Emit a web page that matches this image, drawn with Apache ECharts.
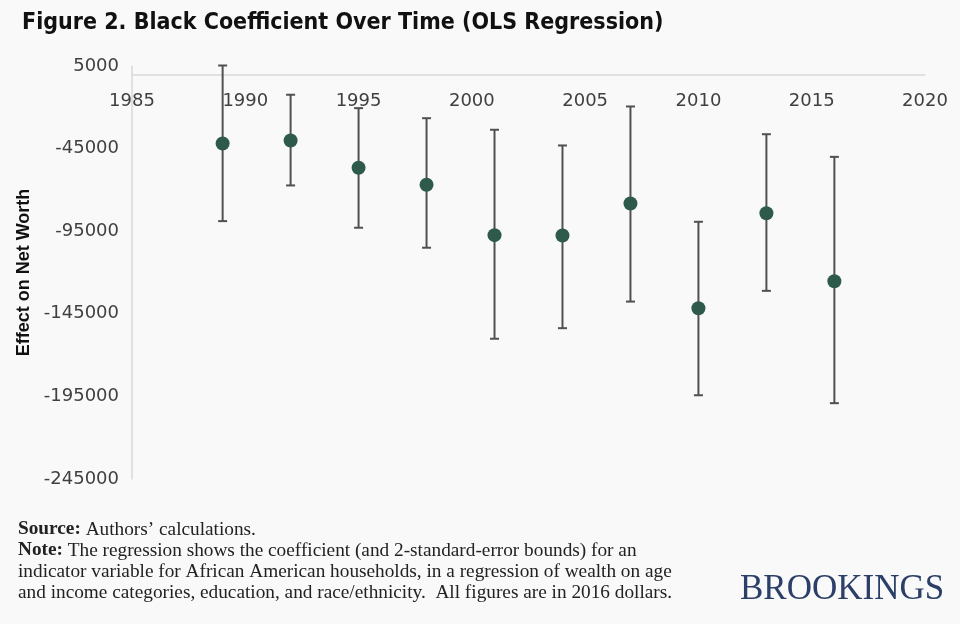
<!DOCTYPE html>
<html>
<head>
<meta charset="utf-8">
<script src="https://cdn.jsdelivr.net/npm/echarts@6/dist/echarts.min.js"></script>
<style>
html,body{margin:0;padding:0;background:#f9f9f9;}
#chart{width:960px;height:624px;}
</style>
</head>
<body>
<div id="chart"></div>
<script>
const years = [1989, 1992, 1995, 1998, 2001, 2004, 2007, 2010, 2013, 2016];
const coef  = [-41900, -40100, -56600, -66900, -97400, -97600, -78200, -141600, -84100, -125300];
const upper = [5300, -12400, -20500, -26600, -33600, -43100, -19500, -89300, -36300, -50000];
const lower = [-88900, -67300, -92900, -105000, -160100, -153700, -137600, -194300, -131100, -199100];
const titleText = 'Figure 2. Black Coefficient Over Time (OLS Regression)';
const yAxisName = 'Effect on Net Worth';

const chart = echarts.init(document.getElementById('chart'));
const barData = years.map((y, i) => [y, lower[i], upper[i]]);
const pointData = years.map((y, i) => [y, coef[i]]);
const errColor = '#505050';

const gridTop = 66, gridBottom = 145, H = 624;
const yMin = -245000, yMax = 5000;
const zeroOffset = (yMax / (yMax - yMin)) * (H - gridTop - gridBottom);

chart.setOption({
  backgroundColor: '#f9f9f9',
  animation: false,
  title: {
    text: titleText,
    left: 17, top: 7,
    textStyle: {fontFamily: "'DejaVu Sans Condensed', 'DejaVu Sans', sans-serif", fontWeight: 'bold', fontSize: 23, color: '#111'}
  },
  grid: {left: 132, right: 35, top: gridTop, bottom: gridBottom},
  xAxis: {
    type: 'value', min: 1985, max: 2020, interval: 5,
    position: 'top', offset: -zeroOffset,
    axisLine: {onZero: false, lineStyle: {color: '#d9d9d9', width: 1.5}},
    axisTick: {show: false},
    splitLine: {show: false},
    axisLabel: {inside: true, formatter: v => String(v), color: '#404040', fontSize: 18, fontFamily: 'DejaVu Sans', margin: 18}
  },
  yAxis: {
    type: 'value', min: yMin, max: yMax, interval: 50000,
    name: yAxisName, nameLocation: 'middle', nameRotate: 90, nameGap: 88,
    nameTextStyle: {fontFamily: 'Liberation Sans', fontWeight: 'bold', fontSize: 18, color: '#111'},
    axisLine: {show: true, lineStyle: {color: '#d9d9d9', width: 1.5}},
    axisTick: {show: false},
    splitLine: {show: false},
    axisLabel: {formatter: v => String(v), color: '#404040', fontSize: 18, fontFamily: 'DejaVu Sans', margin: 13}
  },
  series: [
    {
      type: 'custom',
      data: barData,
      encode: {x: 0, y: [1, 2]},
      z: 2,
      renderItem: function (params, api) {
        const x = api.value(0);
        const pLo = api.coord([x, api.value(1)]);
        const pHi = api.coord([x, api.value(2)]);
        const w = 4.5;
        const st = {stroke: errColor, lineWidth: 2};
        return {
          type: 'group',
          children: [
            {type: 'line', shape: {x1: pHi[0], y1: pHi[1], x2: pLo[0], y2: pLo[1]}, style: st},
            {type: 'line', shape: {x1: pHi[0] - w, y1: pHi[1], x2: pHi[0] + w, y2: pHi[1]}, style: st},
            {type: 'line', shape: {x1: pLo[0] - w, y1: pLo[1], x2: pLo[0] + w, y2: pLo[1]}, style: st}
          ]
        };
      }
    },
    {
      type: 'scatter',
      data: pointData,
      symbol: 'circle',
      symbolSize: 14,
      z: 3,
      itemStyle: {color: '#2e5a4b', opacity: 1}
    }
  ],
  graphic: [
    {
      type: 'text', left: 18, top: 519,
      style: {
        text: '{b|Source:} Authors\u2019 calculations.\n{b|Note:} The regression shows the coefficient (and 2-standard-error bounds) for an\nindicator variable for African American households, in a regression of wealth on age\nand income categories, education, and race/ethnicity.  All figures are in 2016 dollars.',
        font: "19.3px 'Liberation Serif', serif",
        fill: '#222',
        lineHeight: 21,
        rich: {b: {fontWeight: 'bold', fontFamily: "'Liberation Serif', serif", fontSize: 19.3, fill: '#222', lineHeight: 21}}
      }
    },
    {
      type: 'text', left: 740, top: 572,
      style: {text: 'BROOKINGS', font: "35px 'Liberation Serif', serif", fill: '#2b3f68'}
    }
  ]
});
</script>
</body>
</html>
